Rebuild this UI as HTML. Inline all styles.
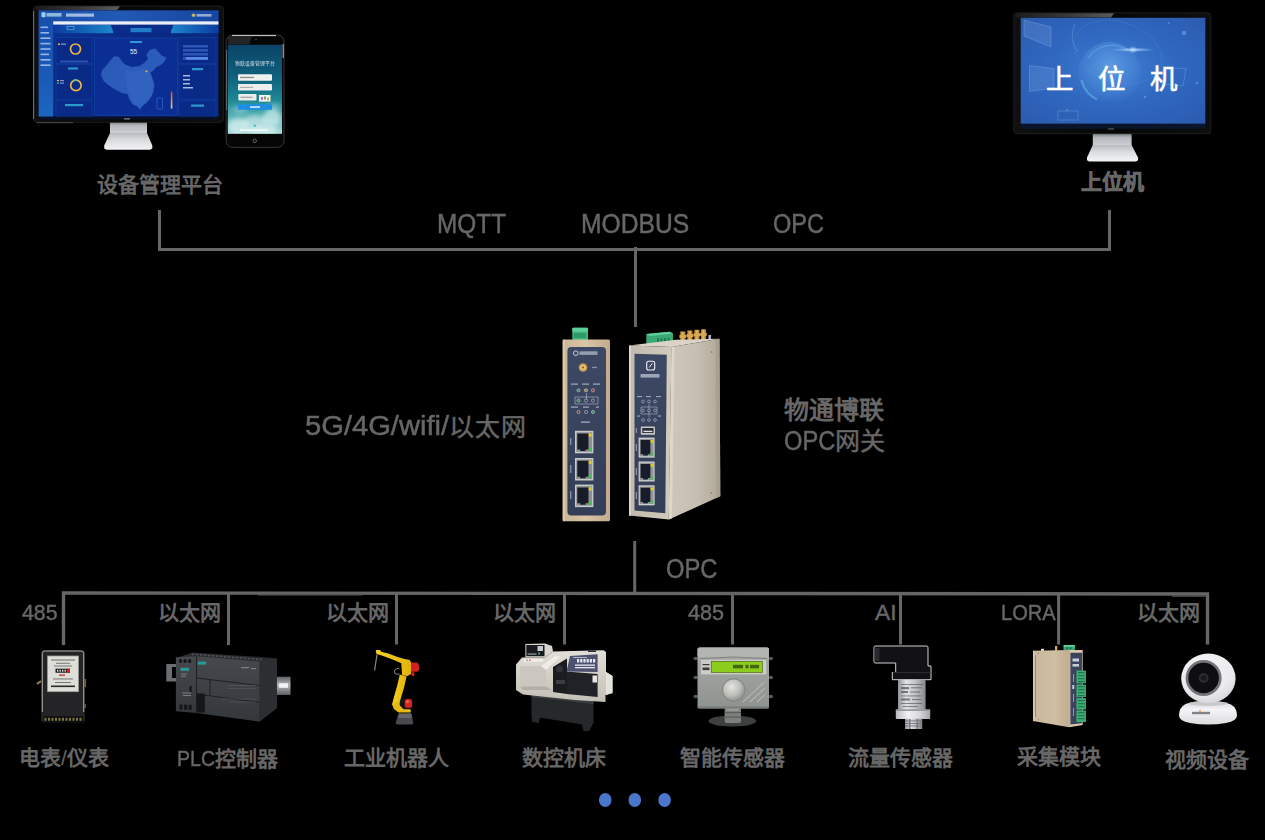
<!DOCTYPE html>
<html lang="zh-CN">
<head>
<meta charset="utf-8">
<title>OPC网关</title>
<style>
html,body{margin:0;padding:0;background:#000;}
body{width:1265px;height:840px;position:relative;overflow:hidden;font-family:"Liberation Sans",sans-serif;color:#666;}
#lines{position:absolute;left:0;top:0;}
.t{position:absolute;white-space:nowrap;line-height:1;color:#676767;}
.b{font-weight:bold;}
.m{-webkit-text-stroke:.45px #676767;}
.k{-webkit-text-stroke:.6px #676767;}
.l{display:inline-block;transform-origin:0 100%;font-size:1.085em;font-weight:normal;-webkit-text-stroke:.45px #676767;}
.c{transform:translateX(-50%);}
.r{transform:translateX(-100%);}
#art{position:absolute;left:0;top:0;}
</style>
</head>
<body>
<svg id="lines" width="1265" height="840" viewBox="0 0 1265 840">
<g fill="none" stroke="#666" stroke-width="3" stroke-linejoin="miter">
<path d="M159.500 210V249.500H1109.500V210"/>
<path d="M635.500 247V327"/>
<path d="M634.700 541V594"/>
<path d="M63.500 645V592.900L1207.500 594V644.500" stroke-width="3.400"/>
<path d="M228.500 593V645M396.500 593V644.500M564.500 593V644.500M732.500 593V644.500M900.500 593V644.500M1058.600 593V644.500"/>
<path d="M258 594.800H362" stroke-width="1.600" stroke="#555"/>
<path d="M1172 596.300H1207" stroke-width="1" stroke="#555"/>
</g>
</svg>
<svg id="art" width="1265" height="840" viewBox="0 0 1265 840">
<defs>
<linearGradient id="gNeck" x1="0" y1="0" x2="0" y2="1"><stop offset="0" stop-color="#6e7278"/><stop offset=".35" stop-color="#b4b7bc"/><stop offset="1" stop-color="#cfd1d5"/></linearGradient>
<linearGradient id="gBase" x1="0" y1="0" x2="0" y2="1"><stop offset="0" stop-color="#b9bbc0"/><stop offset=".45" stop-color="#dcdde0"/><stop offset="1" stop-color="#f4f4f6"/></linearGradient>
<linearGradient id="gBez" x1="0" y1="0" x2="1" y2="0"><stop offset="0" stop-color="#101011"/><stop offset=".5" stop-color="#070708"/><stop offset="1" stop-color="#0e0e0f"/></linearGradient>
<linearGradient id="gS1" x1="0" y1="0" x2="1" y2="1"><stop offset="0" stop-color="#0b3496"/><stop offset=".5" stop-color="#09287f"/><stop offset="1" stop-color="#0a2b8a"/></linearGradient>
<linearGradient id="gS1h" x1="0" y1="0" x2="1" y2="0"><stop offset="0" stop-color="#1a4ea8"/><stop offset=".45" stop-color="#2159b4"/><stop offset="1" stop-color="#1746a0"/></linearGradient>
<linearGradient id="gS1side" x1="0" y1="0" x2="0" y2="1"><stop offset="0" stop-color="#1850ae"/><stop offset=".6" stop-color="#1a5ab8"/><stop offset="1" stop-color="#1c66c0"/></linearGradient>
<linearGradient id="gS1sub" x1="0" y1="0" x2="1" y2="0"><stop offset="0" stop-color="#0b3aa0"/><stop offset="1" stop-color="#1c86cc"/></linearGradient>
<linearGradient id="gS1subR" x1="1" y1="0" x2="0" y2="0"><stop offset="0" stop-color="#0b3aa0"/><stop offset="1" stop-color="#1c86cc"/></linearGradient>
<linearGradient id="gBar" x1="0" y1="0" x2="0" y2="1"><stop offset="0" stop-color="#e04030"/><stop offset="1" stop-color="#f0d060"/></linearGradient>
<linearGradient id="gPh" x1="0" y1="0" x2="0" y2="1"><stop offset="0" stop-color="#0b4468"/><stop offset=".35" stop-color="#0f5f7c"/><stop offset=".62" stop-color="#1c8894"/><stop offset=".8" stop-color="#55b0b4"/><stop offset="1" stop-color="#a8dcdc"/></linearGradient>
<radialGradient id="gS2" cx=".5" cy=".48" r=".75"><stop offset="0" stop-color="#3f7ed0"/><stop offset=".45" stop-color="#3068c0"/><stop offset="1" stop-color="#2a59ae"/></radialGradient>
<radialGradient id="gGlobe" cx=".5" cy=".4" r=".6"><stop offset="0" stop-color="#6aa6e8" stop-opacity=".75"/><stop offset=".7" stop-color="#4a8ad8" stop-opacity=".45"/><stop offset="1" stop-color="#4a8ad8" stop-opacity="0"/></radialGradient>
<radialGradient id="gFlare" cx=".5" cy=".5" r=".5"><stop offset="0" stop-color="#cfe4ff" stop-opacity=".9"/><stop offset="1" stop-color="#8fc0ff" stop-opacity="0"/></radialGradient>
<linearGradient id="gHi" x1="0" y1="0" x2="1" y2="0"><stop offset="0" stop-color="#1c1c1e"/><stop offset=".55" stop-color="#3a3a3d"/><stop offset="1" stop-color="#5c5c60"/></linearGradient>
<filter id="blur1" x="-20%" y="-20%" width="140%" height="140%"><feGaussianBlur stdDeviation="1"/></filter>
<filter id="blur2" x="-20%" y="-20%" width="140%" height="140%"><feGaussianBlur stdDeviation="2"/></filter>
<filter id="blur05" x="-10%" y="-10%" width="120%" height="120%"><feGaussianBlur stdDeviation=".5"/></filter>
</defs>

<!-- ===== Monitor 1 ===== -->
<g id="mon1">
<polygon points="110,121 147,121 147,134 110,134" fill="url(#gNeck)"/>
<polygon points="110,133 147,133 152.300,145.500 152.300,148.500 150,149.800 106.500,149.800 104.200,148.500 104.200,145.500" fill="url(#gBase)"/>
<rect x="33.600" y="6" width="189.800" height="116.300" rx="3" fill="url(#gBez)" stroke="#242427" stroke-width=".8"/>
<polygon points="36,6.300 120,6.300 117,10.200 36,10.200" fill="url(#gHi)"/>
<rect x="38.700" y="10.500" width="179.800" height="106.200" fill="url(#gS1)"/>
<rect x="38.700" y="10.500" width="179.800" height="10.700" fill="url(#gS1h)"/>
<rect x="38.700" y="21" width="14.500" height="95.700" fill="url(#gS1side)"/>
<rect x="53.200" y="21.300" width="165.300" height="3.300" fill="#e9eef8"/>
<rect x="53.200" y="25" width="60" height="8.200" fill="url(#gS1sub)"/>
<rect x="171" y="25" width="47.500" height="8.200" fill="url(#gS1subR)"/>
<polygon points="110.500,25 173.500,25 170,33.200 114,33.200" fill="#0a2b8c"/>
<rect x="130.500" y="28" width="21" height="4.200" fill="#2a9ad8" opacity=".75"/>
<rect x="67" y="26.500" width="7" height="3.200" fill="none" stroke="#7fd0f0" stroke-width=".5"/>
<!-- header logos -->
<rect x="41.500" y="12.300" width="4" height="5" rx=".8" fill="#9ad0f0"/>
<rect x="46.500" y="13" width="15" height="3.600" fill="#b8d8f4" opacity=".75"/>
<rect x="66" y="13.500" width="28" height="3.200" fill="#d8e8fa" opacity=".7"/>
<circle cx="193.500" cy="15.300" r="1.700" fill="#c8b860"/>
<rect x="196.500" y="14" width="15" height="2.600" fill="#c4d4ec" opacity=".7"/>
<!-- sidebar items -->
<g fill="#cfe0f8" opacity=".7"><rect x="40.500" y="26.500" width="7.500" height="1.600"/><rect x="40.500" y="32" width="8.500" height="1.600"/><rect x="40.500" y="37.400" width="10" height="1.600"/><rect x="40.500" y="42.800" width="10" height="1.600"/><rect x="40.500" y="48.200" width="10" height="1.600"/><rect x="40.500" y="53.600" width="8.500" height="1.600"/><rect x="40.500" y="59" width="10" height="1.600"/><rect x="40.500" y="64.400" width="10" height="1.600"/></g>
<!-- panels -->
<g fill="#0a2a88" stroke="#164ab0" stroke-width=".45">
<rect x="56" y="37.700" width="36" height="26"/><rect x="56" y="64.800" width="36" height="34.700"/><rect x="56" y="101" width="36" height="15.200"/>
<rect x="179" y="37.700" width="37" height="26"/><rect x="179" y="64.800" width="37" height="34.700"/><rect x="179" y="101" width="37" height="15.200"/>
</g>
<rect x="94.500" y="38" width="83" height="77.300" fill="#0a2e94"/>
<rect x="94.500" y="38" width="83" height="77.300" fill="none" stroke="#174cb8" stroke-width=".5"/>
<!-- map -->
<polygon points="101.2,74.7 102.9,69.4 107.2,65.1 110.4,60.8 114.2,56.6 118.9,57.2 122.1,61.9 125.3,65.1 131.7,67.2 139.2,66.6 144.5,63.0 148.4,58.7 146.7,54.4 149.9,50.2 155.2,48.7 158.4,52.3 161.6,55.9 165.9,57.6 163.7,61.9 160.5,65.1 156.3,66.6 153.1,70.4 149.9,72.6 152.0,77.9 154.1,84.3 153.1,91.8 150.9,97.1 146.7,102.5 142.4,105.7 139.8,109.3 137.7,106.3 132.8,104.2 129.6,99.3 127.9,93.9 122.1,92.8 115.7,89.6 109.3,85.4 104.0,81.1" fill="#2c5cba" stroke="#4472cc" stroke-width=".35"/>
<polygon points="125.3,70.4 136.0,71.5 144.5,68.3 150.9,73.6 153.1,84.3 152.0,93.9 146.7,102.0 140.3,106.7 133.9,103.5 130.0,96.1 127.0,85.4" fill="#3868c6" opacity=".55" filter="url(#blur05)"/>
<circle cx="146.500" cy="71.300" r=".9" fill="#f0d040"/>
<text x="133.600" y="53.500" font-size="6.500" fill="#e8f0ff" text-anchor="middle" font-family="Liberation Sans, sans-serif">55</text>
<rect x="130" y="41" width="12" height="2" fill="#40b0e8" opacity=".8"/>
<rect x="170.800" y="91.500" width="1.600" height="17" fill="url(#gBar)"/>
<rect x="157" y="98" width="5.500" height="11" rx=".8" fill="none" stroke="#4a7ce0" stroke-width=".5"/>
<!-- donuts -->
<circle cx="75.500" cy="49" r="5" fill="none" stroke="#f0b444" stroke-width="1.700"/>
<circle cx="75.900" cy="85.400" r="5.200" fill="none" stroke="#f0b444" stroke-width="1.700"/>
<path d="M73.500 80.600A5.200 5.200 0 0 1 77 80.300" fill="none" stroke="#30d0b0" stroke-width="1.700"/>
<rect x="58" y="43.500" width="2" height="1.500" fill="#f0b444"/><rect x="61" y="43.500" width="5" height="1.300" fill="#a8c4f0" opacity=".7"/>
<rect x="57" y="80" width="2" height="1.200" fill="#f0b444"/><rect x="57" y="82.500" width="2" height="1.200" fill="#30d0b0"/><rect x="60" y="80" width="4" height="1.200" fill="#a8c4f0" opacity=".7"/><rect x="60" y="82.500" width="4" height="1.200" fill="#a8c4f0" opacity=".7"/>
<rect x="60" y="60.500" width="28" height="2" fill="#2a50b0"/>
<rect x="68" y="67.500" width="10" height="2" fill="#30b0d8" opacity=".85"/>
<rect x="65" y="104" width="18" height="2.200" fill="#30b0d8" opacity=".85"/>
<!-- right panel bars -->
<g fill="#2c55b4"><rect x="183" y="45" width="25" height="2.600"/><rect x="183" y="49" width="25" height="2.600"/><rect x="183" y="53" width="25" height="2.600"/></g>
<rect x="183" y="57" width="3" height="2.800" fill="#2c55b4"/><rect x="186" y="57" width="22" height="2.800" fill="#5a88e8"/>
<rect x="192" y="68" width="11" height="2.200" fill="#30b0d8" opacity=".85"/>
<g fill="#d0dcf4" opacity=".8"><rect x="183" y="75" width="7" height="1.500"/><rect x="183" y="79" width="7" height="1.500"/><rect x="183" y="83" width="7" height="1.500"/><rect x="183" y="87" width="10" height="1.500"/></g>
<rect x="191" y="104.500" width="13" height="2.200" fill="#30b0d8" opacity=".85"/>
<rect x="38.700" y="116.700" width="179.800" height="3" fill="#08122a" opacity=".85"/>
<rect x="124" y="118" width="6" height="1.600" fill="#6a6a70"/>
<rect x="37" y="122.300" width="36" height=".9" fill="#6a6a6e" opacity=".7"/>
<rect x="33.300" y="11" width=".8" height="108" fill="#b8b8bc" opacity=".75"/>
</g>

<!-- ===== Phone ===== -->
<g id="phone">
<rect x="226.100" y="35" width="57.900" height="112.400" rx="6.500" fill="#060607" stroke="#3c3c40" stroke-width=".9"/>
<rect x="232" y="35.100" width="44" height="1" fill="#d8d8da"/>
<path d="M228 36.500H252L249 44.500H228Z" fill="#2c2c2e" opacity=".8"/>
<rect x="282.600" y="44" width="1.300" height="14" fill="#9a9a9e"/>
<rect x="226.200" y="50" width=".9" height="60" fill="#77777a"/>
<rect x="227.800" y="44.800" width="54.200" height="89" fill="url(#gPh)"/>
<clipPath id="cpPh"><rect x="227.800" y="44.800" width="54.200" height="89"/></clipPath>
<g clip-path="url(#cpPh)"><g filter="url(#blur2)" fill="#dff2f2"><ellipse cx="238" cy="126" rx="10" ry="8" opacity=".7"/><ellipse cx="255" cy="122" rx="12" ry="7" opacity=".55"/><ellipse cx="272" cy="118" rx="9" ry="9" opacity=".65"/><ellipse cx="262" cy="131" rx="16" ry="5" opacity=".7"/><ellipse cx="240" cy="110" rx="8" ry="4" opacity=".3"/><ellipse cx="274" cy="107" rx="6" ry="4" opacity=".3"/></g></g>
<text x="254.800" y="65" font-size="4.900" fill="#e4eef2" text-anchor="middle" opacity=".9" font-family="Liberation Sans, sans-serif">物联设备管理平台</text>
<rect x="238" y="74.200" width="34" height="6.600" rx="1" fill="#f0f0f0"/>
<rect x="238" y="84" width="34" height="6.600" rx="1" fill="#eeeeee"/>
<rect x="238.300" y="94" width="18.200" height="6.600" rx="1" fill="#ececec"/>
<rect x="259" y="95" width="11.500" height="6.600" fill="#f4f6f4"/>
<rect x="261" y="97" width="2" height="3" fill="#d060d0"/><rect x="264" y="96.500" width="2" height="3" fill="#60b060"/><rect x="267" y="97.500" width="2" height="3" fill="#d0b040"/>
<rect x="240" y="76.800" width="14" height="1.300" fill="#8a8a8a"/>
<rect x="240" y="86.800" width="13" height="1.200" fill="#b0b0b0"/>
<rect x="240.500" y="96.700" width="12" height="1.200" fill="#a0a0a0"/>
<rect x="238" y="104.200" width="34" height="5.600" rx=".6" fill="#1d8ee4"/>
<rect x="250" y="106.200" width="10" height="1.700" fill="#cfe8fc"/>
<rect x="240" y="129.300" width="28" height="1.600" fill="#f6fcfc" opacity=".9"/>
<circle cx="254.800" cy="125.700" r="1.300" fill="#40c0c0"/>
<circle cx="254.800" cy="140.800" r="1.700" fill="none" stroke="#8c8c90" stroke-width=".7"/>
<circle cx="256" cy="39.400" r=".9" fill="#3a3a3e"/>
</g>

<!-- ===== Monitor 2 ===== -->
<g id="mon2">
<polygon points="1092.800,133 1131.600,133 1131.600,146 1092.800,146" fill="url(#gNeck)"/>
<polygon points="1092.800,145 1131.600,145 1138,157.500 1138,160.300 1136,161.600 1089,161.600 1087,160.300 1087,157.500" fill="url(#gBase)"/>
<rect x="1013.800" y="12.900" width="197" height="120.800" rx="3" fill="url(#gBez)" stroke="#242427" stroke-width=".8"/>
<polygon points="1016,13.200 1114,13.200 1111,17.400 1016,17.400" fill="url(#gHi)"/>
<rect x="1020.700" y="17.800" width="184.600" height="106" fill="url(#gS2)"/>
<circle cx="1109.700" cy="72.800" r="31" fill="url(#gGlobe)"/>
<path d="M1081.500 80A29.500 29.500 0 0 0 1097 99.500" fill="none" stroke="#78c4ee" stroke-width="2.200" opacity=".45" filter="url(#blur05)"/>
<path d="M1088 58A29 29 0 0 1 1128 50" fill="none" stroke="#78c4ee" stroke-width="1.500" opacity=".35" filter="url(#blur05)"/>
<ellipse cx="1118" cy="52" rx="45" ry="30" fill="none" stroke="#9ccaf6" stroke-width=".7" stroke-dasharray=".8 1.600" opacity=".4" transform="rotate(18 1118 52)"/>
<g fill="#a8d0fa" opacity=".35"><circle cx="1184" cy="33" r="2.300"/><circle cx="1067" cy="110" r="1"/><circle cx="1145" cy="97" r="1.200"/><circle cx="1197" cy="83" r="1.300"/><circle cx="1169" cy="23" r=".9"/></g>
<rect x="1020.700" y="123.800" width="184.600" height="5" fill="#0a1630" opacity=".9"/>
<ellipse cx="1133" cy="49.800" rx="22" ry="2.200" fill="url(#gFlare)"/>
<ellipse cx="1133" cy="49.800" rx="5" ry="4" fill="url(#gFlare)"/>
<g fill="none" stroke="#9cc4f4" stroke-width=".6" opacity=".45">
<polygon points="1029.500,65.500 1054,68.500 1054,88 1029.500,91.500"/>
<polygon points="1024,20 1051,27 1051,47 1024,36"/>
<path d="M1075 24Q1068 40 1078 52"/>
<polygon points="1163,68 1186,68.500 1183,86 1163,84"/>
<rect x="1058" y="111" width="20" height="9"/>
</g>
<g fill="#a8ccf8" opacity=".16"><polygon points="1024,20 1051,27 1051,47 1024,36"/><polygon points="1029.500,65.500 1054,68.500 1054,88 1029.500,91.500"/></g>
<text x="1045.500" y="88.600" font-size="27.500" fill="#ffffff" stroke="#ffffff" stroke-width=".6" letter-spacing="25" font-family="Liberation Sans, sans-serif">上位机</text>
<rect x="1108" y="128.300" width="6" height="1.300" fill="#55555a"/>
</g>

<!-- ===== dots ===== -->
<g fill="#4a76cc"><ellipse cx="605.200" cy="800" rx="6.300" ry="6.900"/><ellipse cx="634.800" cy="800" rx="6.300" ry="6.900"/><ellipse cx="664.600" cy="800" rx="6.300" ry="6.900"/></g>
<defs>
<linearGradient id="gBeige" x1="0" y1="0" x2="1" y2="0"><stop offset="0" stop-color="#cbb596"/><stop offset=".5" stop-color="#d8c4a6"/><stop offset="1" stop-color="#c2ab8c"/></linearGradient>
<linearGradient id="gNavy" x1="0" y1="0" x2="0" y2="1"><stop offset="0" stop-color="#3d4864"/><stop offset="1" stop-color="#343e58"/></linearGradient>
<linearGradient id="gSide" x1="0" y1="0" x2="1" y2="0"><stop offset="0" stop-color="#cfc8ba"/><stop offset=".55" stop-color="#c6beb0"/><stop offset="1" stop-color="#b0a898"/></linearGradient>
<linearGradient id="gFrontR" x1="0" y1="0" x2="1" y2="0"><stop offset="0" stop-color="#c2baac"/><stop offset="1" stop-color="#d2cbbd"/></linearGradient>
<linearGradient id="gGold" x1="0" y1="0" x2="1" y2="0"><stop offset="0" stop-color="#b07828"/><stop offset=".5" stop-color="#e8b860"/><stop offset="1" stop-color="#a87020"/></linearGradient>
</defs>

<!-- ===== Gateway left ===== -->
<g id="gw1">
<rect x="572.300" y="327.800" width="15.700" height="12.500" rx="1" fill="#3fb67e"/>
<rect x="572.300" y="327.800" width="15.700" height="4" rx="1" fill="#5ccf98"/>
<rect x="574" y="333" width="12" height="5" fill="#2f9a68"/>
<rect x="562.700" y="339.600" width="47.300" height="181.600" rx="1.500" fill="url(#gBeige)"/>
<rect x="562.700" y="339.600" width="2" height="181.600" fill="#e2d2b8" opacity=".8"/>
<rect x="567.400" y="347" width="38.600" height="168.600" rx="4" fill="url(#gNavy)"/>
<!-- logo -->
<circle cx="575.800" cy="353.200" r="2.300" fill="none" stroke="#e8ecf4" stroke-width=".8"/>
<rect x="579.500" y="351.300" width="18" height="3.600" fill="#dfe4ee" opacity=".55"/>
<!-- antenna -->
<circle cx="583" cy="367.500" r="4.300" fill="#c89a4c"/><circle cx="583" cy="367.500" r="2.800" fill="#e9c27a"/><circle cx="583" cy="367.500" r="1.100" fill="#8a5c1c"/>
<rect x="592" y="366.800" width="5" height="1.300" fill="#aab2c6" opacity=".7"/>
<!-- LEDs -->
<g fill="none" stroke="#c4cadb" stroke-width=".6" opacity=".9">
<path d="M575 397H598M575 404H598M575 397V404M598 397V404M586.500 393V400"/>
</g>
<g stroke="#d4d9e6" stroke-width=".5">
<circle cx="578.500" cy="390.300" r="1.600" fill="#3f8a58"/><circle cx="586" cy="390.300" r="1.600" fill="#9a8a48"/><circle cx="593" cy="390.300" r="1.600" fill="#8e3a3a"/>
<circle cx="578.500" cy="400.500" r="1.600" fill="#3f8a58"/><circle cx="586" cy="400.500" r="1.600" fill="#3a4560"/><circle cx="593" cy="400.500" r="1.600" fill="#3a4560"/>
<circle cx="578.500" cy="412" r="1.600" fill="#8e3a3a"/><circle cx="586" cy="412" r="1.600" fill="#3a4560"/><circle cx="593" cy="412" r="1.600" fill="#3f8a58"/>
</g>
<g fill="#c9cfdf" opacity=".75"><rect x="571" y="383.500" width="7" height="1.200"/><rect x="582" y="383.500" width="7" height="1.200"/><rect x="593" y="383.500" width="7" height="1.200"/><rect x="571" y="406.500" width="7" height="1.200"/><rect x="583" y="406.500" width="6" height="1.200"/><rect x="596" y="406.500" width="3" height="1.200"/><rect x="581" y="421.500" width="9" height="1.300"/></g>
<g transform="translate(575 430.800)"><rect x="0" y="0" width="18.400" height="22.500" fill="#c9c9c6"/><rect x="1.300" y="1.500" width="15.800" height="19.500" fill="#8c8f92"/><path d="M2.300 2.800H13.500V18.700H10.500V20.200H5.300V18.700H2.300Z" fill="#171c28"/><rect x="13.800" y="2.600" width="2.800" height="3.300" fill="#e8c82a"/><rect x="13.800" y="16.800" width="2.800" height="3.300" fill="#3ec24a"/></g>
<g transform="translate(575 458)"><rect x="0" y="0" width="18.400" height="22.500" fill="#c9c9c6"/><rect x="1.300" y="1.500" width="15.800" height="19.500" fill="#8c8f92"/><path d="M2.300 2.800H13.500V18.700H10.500V20.200H5.300V18.700H2.300Z" fill="#171c28"/><rect x="13.800" y="2.600" width="2.800" height="3.300" fill="#e8c82a"/><rect x="13.800" y="16.800" width="2.800" height="3.300" fill="#3ec24a"/></g>
<g transform="translate(575 484.600)"><rect x="0" y="0" width="18.400" height="22.500" fill="#c9c9c6"/><rect x="1.300" y="1.500" width="15.800" height="19.500" fill="#8c8f92"/><path d="M2.300 2.800H13.500V18.700H10.500V20.200H5.300V18.700H2.300Z" fill="#171c28"/><rect x="13.800" y="2.600" width="2.800" height="3.300" fill="#e8c82a"/><rect x="13.800" y="16.800" width="2.800" height="3.300" fill="#3ec24a"/></g>
<g fill="#c9cfdf" opacity=".7"><rect x="570.200" y="438" width="1.100" height="7"/><rect x="570.200" y="465" width="1.100" height="8"/><rect x="570.200" y="491" width="1.100" height="8"/></g>
</g>

<!-- ===== Gateway right ===== -->
<g id="gw2">
<!-- SMA connectors -->
<g>
<rect x="680.200" y="331.500" width="5.200" height="12" fill="url(#gGold)"/><rect x="679.400" y="335" width="6.800" height="3" fill="#d8a850"/>
<rect x="687.300" y="330.500" width="5.200" height="12" fill="url(#gGold)"/><rect x="686.500" y="334" width="6.800" height="3" fill="#d8a850"/>
<rect x="694.300" y="329.800" width="5.200" height="12" fill="url(#gGold)"/><rect x="693.500" y="333.300" width="6.800" height="3" fill="#d8a850"/>
<rect x="701" y="329.300" width="5" height="11.500" fill="url(#gGold)"/><rect x="700.200" y="332.800" width="6.600" height="3" fill="#d8a850"/>
<rect x="708.500" y="335" width="2.500" height="4" fill="#b8b8b8"/>
</g>
<!-- green terminal -->
<polygon points="646.300,334 669.500,331.800 673,333.500 673,344.500 649,346.300 646.300,344.800" fill="#3aa874"/>
<polygon points="646.300,334 669.500,331.800 673,333.500 649.800,336" fill="#62d09c"/>
<g fill="#1f7a50"><rect x="657" y="338.500" width="2" height="4.500"/><rect x="660.500" y="338.300" width="2" height="4.500"/><rect x="664" y="338.100" width="2" height="4.500"/><rect x="667.500" y="337.900" width="2" height="4.500"/></g>
<rect x="669" y="343" width="9" height="3" fill="#20242c"/>
<!-- top face -->
<polygon points="629,345.600 676,339.800 719.500,338.800 671.500,347" fill="#dad3c6"/>
<!-- right side -->
<polygon points="671.500,347 719.500,338.800 720.300,496.300 668.800,519.600" fill="url(#gSide)"/>
<polygon points="715.500,339.500 719.500,338.800 720.300,496.300 716.300,498.100" fill="#a9a091"/>
<polygon points="671.500,347 674.500,346.500 672,518.200 668.800,519.600" fill="#ddd6ca"/>
<circle cx="711.500" cy="352" r="1" fill="#8f8778"/><circle cx="711.500" cy="493" r="1" fill="#8f8778"/>
<!-- front -->
<polygon points="629,345.600 671.500,347 668.800,519.600 629,515.500" fill="url(#gFrontR)"/>
<polygon points="629,345.600 631,345.700 631,515.700 629,515.500" fill="#dcd5c8"/>
<polygon points="634.500,353.800 666.800,354.800 665.300,513.200 634.500,510.500" fill="url(#gNavy)"/>
<!-- logo -->
<rect x="646.700" y="361.200" width="8" height="8.800" rx="2" fill="none" stroke="#f0f2f8" stroke-width="1.100"/>
<path d="M649.200 367.500L652.300 363.300" stroke="#f0f2f8" stroke-width="1" fill="none"/>
<rect x="640.500" y="374" width="19" height="3.600" fill="#dfe4ee" opacity=".6"/>
<!-- LEDs -->
<g fill="none" stroke="#c4cadb" stroke-width=".55" opacity=".9"><path d="M641 407H657M641 414H657M641 407V414M657 407V414M649 404V417"/></g>
<g fill="#39435e" stroke="#d4d9e6" stroke-width=".5"><circle cx="643" cy="401.500" r="1.400"/><circle cx="649" cy="401.500" r="1.400"/><circle cx="655" cy="401.500" r="1.400"/><circle cx="643" cy="410.500" r="1.400"/><circle cx="649" cy="410.500" r="1.400"/><circle cx="655" cy="410.500" r="1.400"/><circle cx="643" cy="420" r="1.400"/><circle cx="649" cy="420" r="1.400"/><circle cx="655" cy="420" r="1.400"/></g>
<g fill="#c9cfdf" opacity=".7"><rect x="637" y="396" width="5" height="1.100"/><rect x="646" y="396" width="5" height="1.100"/><rect x="656" y="396" width="5" height="1.100"/><rect x="637" y="415.500" width="3" height="1.100"/><rect x="658" y="415.500" width="3" height="1.100"/></g>
<!-- usb -->
<rect x="640.800" y="426.400" width="14.200" height="8.300" rx="1" fill="#c8c8c6"/><rect x="642.300" y="428" width="11.200" height="5" fill="#2a2e38"/><rect x="643.500" y="430.700" width="8.800" height="1.400" fill="#e0e0e0"/>
<g transform="translate(638.600 437.600)"><rect x="0" y="0" width="16" height="20" fill="#cfcfcc"/><rect x="1.100" y="1.300" width="13.800" height="17.400" fill="#90959a"/><path d="M2 2.500H11.800V16.600H9.200V17.900H4.600V16.600H2Z" fill="#171c28"/><rect x="12" y="2.200" width="2.500" height="2.800" fill="#e8c82a"/><rect x="12" y="15" width="2.500" height="2.800" fill="#3ec24a"/></g>
<g transform="translate(638.600 461.500)"><rect x="0" y="0" width="16" height="20" fill="#cfcfcc"/><rect x="1.100" y="1.300" width="13.800" height="17.400" fill="#90959a"/><path d="M2 2.500H11.800V16.600H9.200V17.900H4.600V16.600H2Z" fill="#171c28"/><rect x="12" y="2.200" width="2.500" height="2.800" fill="#e8c82a"/><rect x="12" y="15" width="2.500" height="2.800" fill="#3ec24a"/></g>
<g transform="translate(638.600 485.300)"><rect x="0" y="0" width="16" height="20" fill="#cfcfcc"/><rect x="1.100" y="1.300" width="13.800" height="17.400" fill="#90959a"/><path d="M2 2.500H11.800V16.600H9.200V17.900H4.600V16.600H2Z" fill="#171c28"/><rect x="12" y="2.200" width="2.500" height="2.800" fill="#e8c82a"/><rect x="12" y="15" width="2.500" height="2.800" fill="#3ec24a"/></g>
<g fill="#c9cfdf" opacity=".7"><rect x="635.800" y="428" width="1" height="5"/><rect x="635.800" y="444" width="1" height="7"/><rect x="635.800" y="468" width="1" height="7"/><rect x="635.800" y="492" width="1" height="7"/></g>
</g>
<defs>
<linearGradient id="gPlc" x1="0" y1="0" x2="0" y2="1"><stop offset="0" stop-color="#45494d"/><stop offset="1" stop-color="#34383b"/></linearGradient>
<linearGradient id="gRail" x1="0" y1="0" x2="0" y2="1"><stop offset="0" stop-color="#5c6064"/><stop offset=".45" stop-color="#b4b7ba"/><stop offset="1" stop-color="#5a5e62"/></linearGradient>
<linearGradient id="gSteel" x1="0" y1="0" x2="1" y2="0"><stop offset="0" stop-color="#8e9094"/><stop offset=".3" stop-color="#e2e3e6"/><stop offset=".6" stop-color="#c4c5c9"/><stop offset="1" stop-color="#85878b"/></linearGradient>
<linearGradient id="gNut" x1="0" y1="0" x2="1" y2="0"><stop offset="0" stop-color="#b8b9be"/><stop offset=".35" stop-color="#f2f2f5"/><stop offset=".7" stop-color="#d6d6db"/><stop offset="1" stop-color="#a5a6ab"/></linearGradient>
<linearGradient id="gSens" x1="0" y1="0" x2="0" y2="1"><stop offset="0" stop-color="#a9aca8"/><stop offset="1" stop-color="#8f9390"/></linearGradient>
<radialGradient id="gDome" cx=".4" cy=".35" r=".7"><stop offset="0" stop-color="#e4e4e0"/><stop offset=".6" stop-color="#bdbdb8"/><stop offset="1" stop-color="#8e8e8a"/></radialGradient>
<radialGradient id="gCam" cx=".42" cy=".3" r=".8"><stop offset="0" stop-color="#f6f6f8"/><stop offset=".65" stop-color="#eaeaec"/><stop offset="1" stop-color="#cfcfd3"/></radialGradient>
<linearGradient id="gCamB" x1="0" y1="0" x2="0" y2="1"><stop offset="0" stop-color="#d9d9dc"/><stop offset=".35" stop-color="#f4f4f6"/><stop offset="1" stop-color="#dcdcdf"/></linearGradient>
<linearGradient id="gMod" x1="0" y1="0" x2="1" y2="0"><stop offset="0" stop-color="#c9b89c"/><stop offset=".6" stop-color="#cfbea2"/><stop offset="1" stop-color="#c1ad90"/></linearGradient>
<linearGradient id="gCnc" x1="0" y1="0" x2="0" y2="1"><stop offset="0" stop-color="#e2dfd8"/><stop offset="1" stop-color="#c4c0b7"/></linearGradient>
<linearGradient id="gYel" x1="0" y1="0" x2="1" y2="0"><stop offset="0" stop-color="#f6d21e"/><stop offset="1" stop-color="#e2b20e"/></linearGradient>
</defs>

<!-- ===== Meter ===== -->
<g id="meter">
<rect x="41.100" y="650.300" width="43.800" height="72.300" rx="3" fill="#242426"/>
<path d="M42.300 712V653.500Q42.300 651 44.800 651H81.200Q83.700 651 83.700 653.500V712" fill="none" stroke="#bcbcc0" stroke-width=".9"/>
<rect x="47.500" y="656" width="31" height="35.700" fill="#deded9"/>
<rect x="47.500" y="656" width="31" height="35.700" fill="none" stroke="#9a9a98" stroke-width=".8"/>
<g fill="#6a6a68"><rect x="51" y="659.500" width="24" height="1"/><rect x="56" y="662.800" width="14" height=".9"/><rect x="54" y="665.600" width="18" height=".9"/><rect x="53" y="678.500" width="20" height=".9"/><rect x="55" y="682" width="16" height=".9"/></g>
<rect x="51" y="685.500" width="24" height="1.600" fill="#2a2a2a"/>
<rect x="55.500" y="668.700" width="14.500" height="4" fill="#151515"/>
<rect x="66.800" y="668.700" width="3.200" height="4" fill="#d82020"/>
<g fill="#e8e8e8"><rect x="57" y="669.700" width="1.400" height="2"/><rect x="59.500" y="669.700" width="1.400" height="2"/><rect x="62" y="669.700" width="1.400" height="2"/><rect x="64.500" y="669.700" width="1.400" height="2"/></g>
<rect x="59" y="674.500" width="6" height="1.300" fill="#c03030"/>
<rect x="36.500" y="681.500" width="5" height="2" fill="#8a7858" transform="rotate(-35 39 682.500)"/>
<rect x="84.300" y="679" width="1.800" height="8" fill="#6e6438"/>
<rect x="84.500" y="704" width="1.200" height="4" fill="#6e6e40"/>
<rect x="43.500" y="716.300" width="39.500" height="6" fill="#0c0c0c"/>
<g fill="#7e7a3e"><rect x="44.500" y="717.800" width="2" height="3"/><rect x="48" y="717.800" width="2" height="3"/><rect x="51.500" y="717.800" width="2" height="3"/><rect x="55" y="717.800" width="2" height="3"/><rect x="58.500" y="717.800" width="2" height="3"/><rect x="62" y="717.800" width="2" height="3"/><rect x="65.500" y="717.800" width="2" height="3"/><rect x="69" y="717.800" width="2" height="3"/><rect x="72.500" y="717.800" width="2" height="3"/><rect x="76" y="717.800" width="2" height="3"/><rect x="79.500" y="717.800" width="2" height="3"/></g>
</g>

<!-- ===== PLC ===== -->
<g id="plc">
<polygon points="166.300,664 177,664 177,667 172,667 172,678 177,678 177,681.500 166.300,681.500" fill="#6a6e72"/>
<rect x="275" y="676.700" width="15.500" height="18.300" fill="url(#gRail)"/>
<rect x="279" y="683.200" width="9" height="4.600" fill="#f2f2f2"/>
<polygon points="196.500,653.800 259.600,659.500 276.800,658.500 276.800,708 259.600,721.400 196.500,712.200" fill="#2d3033"/>
<polygon points="178,657.500 192,652.600 258,656.800 276.800,658.500 259.600,662 196.500,657.200" fill="#2a2c2f"/>
<polygon points="175.900,657.200 196.500,656.200 196.500,713 175.900,711.200" fill="url(#gPlc)"/>
<polygon points="196.500,656.200 259.600,661.500 259.600,721.400 196.500,713" fill="url(#gPlc)"/>
<polygon points="259.600,661.500 276.800,658.500 276.800,708 259.600,721.400" fill="#2c2f32"/>
<g stroke="#1c1e20" stroke-width=".9" fill="none"><path d="M196.500 678L259.600 685.500M196.500 694L259.600 702.500M196.500 656.200V713M210 679.500V696"/></g>
<g stroke="#606468" stroke-width=".6" fill="none" opacity=".8"><path d="M227 685.500H256M227 688.500H256M222 699H256M230 702H256"/></g>
<g fill="#15171a"><rect x="179" y="659" width="3.200" height="4" rx="1.500"/><rect x="183.500" y="659" width="3.200" height="4" rx="1.500"/><rect x="188" y="659" width="3.200" height="4" rx="1.500"/><rect x="179.500" y="704.500" width="3.200" height="5"/><rect x="184" y="704.700" width="3.200" height="5"/><rect x="188.500" y="704.900" width="3.200" height="5"/><rect x="189.500" y="686" width="2.200" height="6"/></g>
<rect x="197.700" y="661.600" width="8.500" height="3" fill="#2a9a98"/>
<rect x="180.500" y="667.800" width="8.500" height="3" fill="#2a9a98"/>
<g fill="#8a8e92" opacity=".8"><rect x="181" y="673.500" width="6" height="1"/><rect x="181" y="675.800" width="5" height="1"/><rect x="182" y="692.500" width="9" height="1"/><rect x="183" y="695" width="8" height="1"/><rect x="241" y="667" width="8" height="1.200"/><rect x="251" y="668" width="5" height="1.200"/></g>
<g stroke="#55595d" stroke-width="1.600" opacity=".85"><path d="M192 654.200L262 659.600" stroke-dasharray="2.400 1.600"/></g>
<rect x="196.800" y="693.500" width="8" height="19" fill="#141618"/>
</g>

<!-- ===== Robot ===== -->
<g id="robot">
<polygon points="398.5,713.6 411.6,713.6 413.2,723.2 412.3,724.6 396.8,724.6 395.6,723.2" fill="#4a4a4e"/>
<polygon points="399.0,713.6 411.1,713.6 411.8,718.1 398.2,718.1" fill="#66666a"/>
<path d="M377 654.500L374.600 670.500" stroke="#8a8a8e" stroke-width="1.200" fill="none"/>
<path d="M399.500 668Q392.500 669 395 673.500Q397 675 399.500 674" stroke="#a4a4a8" stroke-width=".8" fill="none"/>
<polygon points="399.8,698.8 412.6,698.8 412.6,709.6 399.8,709.6" fill="#15130c"/>
<polygon points="375.8,650.0 380.4,650.0 380.9,651.8 388.3,653.4 396.2,656.5 403.6,658.8 409.8,660.1 411.1,662.6 411.1,673.9 407.5,676.0 402.1,675.3 401.3,663.2 393.9,660.1 386.0,657.0 380.4,654.9 376.4,654.1" fill="url(#gYel)"/>
<polygon points="399.8,674.5 406.6,676.4 404.1,687.5 401.0,697.7 399.8,701.7 399.0,703.4 393.9,707.9 392.1,704.5 393.5,698.8 397.3,685.3" fill="url(#gYel)"/>
<polygon points="392.1,703.4 393.9,709.0 398.5,712.4 410.4,712.6 411.1,710.4 409.8,709.3 403.6,709.3 399.8,705.6 399.6,701.7" fill="#e6ba10"/>
<rect x="404.700" y="699" width="7.300" height="8.800" rx="2.500" fill="#d82424"/><rect x="406" y="700.500" width="3" height="2.500" rx="1" fill="#f0665c"/>
<path d="M411 663.500Q411 662.600 412 662.600H416.500Q419 663.500 419 667V670Q418.500 671.700 416.500 671.700H411Z" fill="#d42020"/>
<rect x="411.500" y="672.300" width="2.800" height="3.700" rx="1" fill="#d42020"/>
</g>

<!-- ===== CNC ===== -->
<g id="cnc">
<polygon points="531.500,693 593.500,700 593.500,723 589,731 583.500,731 582,724.500 540,717.500 538.500,723 532,722 531.500,716" fill="#25292b"/>
<polygon points="531.500,693 593.500,700 593.500,704 531.500,697" fill="#3a3e40"/>
<polygon points="516,664.500 522,657.500 545,657.500 553,651.500 603.500,650.300 606,652 606,672 612.500,676 612.500,693 605.500,695 605.500,702 575,700 523,694.500 516,690" fill="url(#gCnc)"/>
<polygon points="525.400,644.100 545,643.600 552,646 553,651.500 545,657.500 525.400,657.500" fill="#d9d6cf"/>
<rect x="526.300" y="645" width="18.200" height="11.200" fill="#17191c"/>
<rect x="537.500" y="646" width="5.500" height="5" fill="#c8ccd0"/><rect x="527.500" y="653.500" width="9" height="1.200" fill="#9a9ea2"/><rect x="538" y="652.500" width="2" height="2" fill="#40a050"/>
<rect x="524" y="659" width="19" height="2.700" fill="#f0efe9"/><circle cx="530" cy="660.300" r=".8" fill="#d03030"/><circle cx="527" cy="660.300" r=".7" fill="#555"/>
<polygon points="520,666 541,666 546,670 546,686.500 520,686.500" fill="#cbc7be"/>
<polygon points="541,666 556,655.500 560,657 546,670" fill="#eeece6"/>
<polygon points="520,686.500 546,686.500 552,690 523,690" fill="#b3afa6"/>
<polygon points="553,667 567,658.500 567,694 553,692" fill="#1a1c1f"/>
<circle cx="559.500" cy="669" r="3.500" fill="#303438"/><rect x="556" y="680" width="9" height="4" fill="#3a3e42"/>
<polygon points="566.600,671.500 597.600,674 597.600,697 566.600,694" fill="#1f2226"/>
<polygon points="570,656 597.600,654.200 597.600,672 566.600,671.500" fill="#4c5270"/>
<g fill="#e6e8ee"><rect x="577" y="659" width="2.200" height="3.500"/><rect x="580.200" y="659" width="2.200" height="3.500"/><rect x="583.400" y="659" width="2.200" height="3.500"/><rect x="586.600" y="659" width="2.200" height="3.500"/><rect x="589.800" y="659" width="2.200" height="3.500"/><rect x="593" y="659" width="2.200" height="3.500"/><rect x="575" y="664.500" width="20" height="1.300"/><rect x="575" y="667" width="20" height="1.300"/><rect x="573" y="657" width="14" height="1" opacity=".7"/></g>
<rect x="592.500" y="675.500" width="4.500" height="7" fill="#e8e6e0"/>
<polygon points="606,672 612.500,676 612.500,693 606,695" fill="#e6e3dc"/>
<rect x="588" y="650.500" width="8" height="1.500" fill="#2a2c2e"/>
</g>

<!-- ===== Smart sensor ===== -->
<g id="sensor">
<ellipse cx="732.400" cy="721" rx="24" ry="5.500" fill="#3e403e"/>
<rect x="724.600" y="707" width="16.400" height="16" rx="2" fill="#7c807c"/>
<rect x="724.600" y="712" width="16.400" height="1.200" fill="#5a5e5a"/><rect x="724.600" y="716.500" width="16.400" height="1.200" fill="#5a5e5a"/>
<rect x="726.500" y="707" width="12.500" height="4" fill="#959995"/>
<g fill="#55585a"><ellipse cx="695.700" cy="658.500" rx="2.300" ry="1.800"/><ellipse cx="695.700" cy="677.500" rx="2.300" ry="1.800"/><ellipse cx="695.700" cy="696.500" rx="2.300" ry="1.800"/><ellipse cx="770.800" cy="658.500" rx="2.300" ry="1.800"/><ellipse cx="770.800" cy="677.500" rx="2.300" ry="1.800"/><ellipse cx="770.800" cy="696.500" rx="2.300" ry="1.800"/></g>
<rect x="697.500" y="647.600" width="71.500" height="60.800" rx="2" fill="url(#gSens)"/>
<rect x="697.500" y="647.600" width="71.500" height="10" rx="2" fill="#b2b5b1"/>
<path d="M700 658.500Q733 655.500 766.500 658.500" stroke="#7a7e7a" stroke-width=".9" fill="none"/>
<rect x="701" y="659.800" width="65.300" height="14.600" fill="#c9ccc8"/>
<rect x="711.300" y="661.400" width="51" height="11" fill="#8ccc1c"/>
<rect x="711.300" y="661.400" width="51" height="11" fill="none" stroke="#4e6a18" stroke-width=".7"/>
<g fill="#2c4208"><rect x="733" y="664.800" width="10" height="3.500" opacity=".75"/><rect x="745.500" y="664.800" width="3" height="3.500" opacity=".75"/><rect x="750" y="664.800" width="9" height="3.500" opacity=".75"/></g>
<g fill="#3a3c3a"><rect x="702.500" y="664" width="7" height="1.200"/><rect x="702.500" y="667.500" width="7" height="2.600"/></g>
<g stroke="#c6c9c5" stroke-width="1" opacity=".9"><path d="M743 702L764.500 682M750 702L764.500 688.500M757 702L764.500 695"/></g>
<circle cx="733.700" cy="690" r="11.700" fill="#858985"/>
<circle cx="733.700" cy="690" r="10.600" fill="url(#gDome)"/>
<rect x="697.500" y="706.400" width="71.500" height="2" fill="#7a7e7a"/>
</g>

<!-- ===== Pressure sensor ===== -->
<g id="press">
<path d="M875.500 646H926.500Q928 646 928 647.500V666H931V679.700H892.300V672.500H895.700V663H875.500Q874 663 874 661.500V647.500Q874 646 875.500 646Z" fill="#121214" stroke="#e8e8ea" stroke-width=".9"/>
<rect x="874.500" y="648" width="5" height="13" fill="#2a2a2e"/>
<rect x="893" y="672" width="37.500" height="1.200" fill="#2c2c30"/>
<rect x="898" y="679.700" width="27.600" height="30" fill="url(#gSteel)"/>
<g fill="#55575b" opacity=".75"><rect x="901" y="684" width="22" height=".9"/><rect x="901" y="687" width="8" height="2.200"/><rect x="911" y="687.300" width="11" height="1"/><rect x="901" y="691" width="7" height="2"/><rect x="910" y="691.500" width="10" height="1"/><rect x="901" y="695.500" width="20" height=".9"/><rect x="901" y="698.500" width="9" height="2"/><rect x="912" y="699" width="9" height="1"/><rect x="901" y="703" width="21" height=".9"/><rect x="903" y="706" width="15" height=".9"/></g>
<rect x="895.800" y="709.500" width="34.400" height="9.400" rx="1" fill="url(#gNut)"/>
<rect x="895.800" y="709.500" width="34.400" height="1.500" fill="#9a9b9f"/>
<rect x="905" y="718.700" width="17.200" height="10.300" fill="url(#gSteel)"/>
<g fill="#6e7074"><rect x="905" y="720.500" width="17.200" height=".9"/><rect x="905" y="723" width="17.200" height=".9"/><rect x="905" y="725.500" width="17.200" height=".9"/></g>
<g fill="#77797d"><rect x="909" y="719" width="1.500" height="10"/><rect x="916.500" y="719" width="1.500" height="10"/></g>
</g>

<!-- ===== Module ===== -->
<g id="module">
<rect x="1041" y="648.800" width="3" height="2.500" fill="#e0e0e0"/>
<rect x="1055" y="646" width="2.200" height="5" fill="#d8b048"/>
<rect x="1063.500" y="645" width="11.500" height="5.200" rx="1" fill="#3aa874"/><rect x="1063.500" y="645" width="11.500" height="1.800" rx=".8" fill="#62d09c"/><rect x="1066" y="647.300" width="2" height="2" fill="#1f6a48"/><rect x="1069.500" y="647.300" width="2" height="2" fill="#1f6a48"/>
<polygon points="1033.100,650.700 1069.100,650.100 1069.100,727.200 1033.100,720.900" fill="url(#gMod)"/>
<polygon points="1033.100,650.700 1034.600,650.700 1034.600,721.200 1033.100,720.900" fill="#dccdb4"/><rect x="1035" y="655" width="1" height="62" fill="#8f7d62" opacity=".8"/>
<polygon points="1069.100,650.100 1082.700,650.100 1082.700,725 1069.100,727.200" fill="#d8c8ac"/>
<polygon points="1070.400,652.800 1082,652.800 1082,723.300 1070.400,724.600" fill="#3a445e"/>
<g fill="#dfe4ee" opacity=".85"><rect x="1072.500" y="658.500" width="6.500" height="3"/><rect x="1072.500" y="664" width="6.500" height="2.600"/><rect x="1072.300" y="685" width="2" height="4"/></g>
<g fill="#c9cfdf" opacity=".6"><rect x="1073" y="674" width="1" height="8"/><rect x="1073" y="694" width="1" height="8"/><rect x="1073" y="708" width="1" height="8"/></g>
<g>
<rect x="1076.500" y="670.600" width="9.400" height="12.700" fill="#3cae74"/><rect x="1076.500" y="684.600" width="9.400" height="12.400" fill="#3cae74"/><rect x="1076.500" y="698.200" width="9.400" height="11.300" fill="#3cae74"/><rect x="1076.500" y="710.500" width="9.400" height="11.500" fill="#3cae74"/>
<g fill="#1f7a4e"><rect x="1078" y="672" width="6.500" height="1.300"/><rect x="1078" y="675" width="6.500" height="1.300"/><rect x="1078" y="678" width="6.500" height="1.300"/><rect x="1078" y="681" width="6.500" height="1.300"/><rect x="1078" y="686" width="6.500" height="1.300"/><rect x="1078" y="689" width="6.500" height="1.300"/><rect x="1078" y="692" width="6.500" height="1.300"/><rect x="1078" y="695" width="6.500" height="1.300"/><rect x="1078" y="700" width="6.500" height="1.300"/><rect x="1078" y="703" width="6.500" height="1.300"/><rect x="1078" y="706" width="6.500" height="1.300"/><rect x="1078" y="712" width="6.500" height="1.300"/><rect x="1078" y="715" width="6.500" height="1.300"/><rect x="1078" y="718" width="6.500" height="1.300"/></g>
</g>
<circle cx="1038.500" cy="653.500" r=".7" fill="#9a8a70"/><circle cx="1038.500" cy="719" r=".7" fill="#9a8a70"/>
</g>

<!-- ===== Camera ===== -->
<g id="camera">
<path d="M1179 715.500Q1179 707.500 1185.500 704Q1191 701.500 1197 701.500H1219Q1226 702 1231 704.500Q1237 708 1237 715.500Q1237 721 1226 723Q1208 726 1190 723Q1179 721 1179 715.500Z" fill="url(#gCamB)"/>
<ellipse cx="1208" cy="703.500" rx="19" ry="2.600" fill="#c9c9cd"/>
<ellipse cx="1208.400" cy="678.400" rx="27.200" ry="24.800" fill="url(#gCam)"/>
<circle cx="1203.600" cy="678" r="18" fill="#737478"/>
<circle cx="1203.600" cy="678" r="15.300" fill="#0e0e11"/>
<circle cx="1203.600" cy="678" r="5" fill="#2a2b30"/>
<circle cx="1203.600" cy="678" r="2.800" fill="#1a1a1e"/>
<rect x="1192" y="711.800" width="18" height="2.400" fill="#555558" opacity=".7"/>
<circle cx="1200" cy="711" r=".9" fill="#e89030"/>
</g>
</svg>

<div class="t b" id="t1" style="left:97px;top:174px;font-size:21px;">设备管理平台</div>
<div class="t b k" id="t2" style="left:1081px;top:171px;font-size:21px;">上位机</div>
<div class="t" id="t3" style="left:436.800px;top:210px;font-size:25px;"><span class="l" style="transform:scaleX(.899)">MQTT</span></div>
<div class="t" id="t4" style="left:580.800px;top:210px;font-size:25px;"><span class="l" style="transform:scaleX(.909)">MODBUS</span></div>
<div class="t" id="t5" style="left:773.100px;top:210px;font-size:25px;"><span class="l" style="transform:scaleX(.867)">OPC</span></div>
<div class="t m" id="t6" style="left:305px;top:413px;font-size:25px;"><span class="l" style="transform:scaleX(1.075);margin-right:10.100px;position:relative;top:-1px;">5G/4G/wifi/</span><span style="letter-spacing:.8px">以太网</span></div>
<div class="t b" id="t7" style="left:784px;top:398px;font-size:25px;">物通博联</div>
<div class="t m" id="t8" style="left:784px;top:427px;font-size:25px;"><span class="l" style="transform:scaleX(.872);margin-right:-7.500px;">OPC</span>网关</div>
<div class="t" id="t9" style="left:665.900px;top:555px;font-size:25px;"><span class="l" style="transform:scaleX(.877)">OPC</span></div>
<div class="t" id="c1" style="left:22px;top:601px;font-size:21px;"><span class="l k" style="transform:scaleX(.935)">485</span></div>
<div class="t b" id="c2" style="left:157.500px;top:602px;font-size:21px;">以太网</div>
<div class="t b" id="c3" style="left:325.500px;top:602px;font-size:21px;">以太网</div>
<div class="t b" id="c4" style="left:493px;top:602px;font-size:21px;">以太网</div>
<div class="t" id="c5" style="left:688px;top:601px;font-size:21px;"><span class="l k" style="transform:scaleX(.95)">485</span></div>
<div class="t" id="c6" style="left:875px;top:601px;font-size:21px;"><span class="l">AI</span></div>
<div class="t" id="c7" style="left:1000.500px;top:601px;font-size:21px;"><span class="l" style="transform:scaleX(.882)">LORA</span></div>
<div class="t b" id="c8" style="left:1137px;top:602px;font-size:21px;">以太网</div>
<div class="t b" id="d1" style="left:19px;top:747px;font-size:21px;">电表<span style="font-weight:normal">/</span>仪表</div>
<div class="t b" id="d2" style="left:177px;top:747px;font-size:21px;"><span class="l" style="transform:scaleX(.86);margin-right:-6.200px;">PLC</span>控制器</div>
<div class="t b" id="d3" style="left:344px;top:747px;font-size:21px;">工业机器人</div>
<div class="t b" id="d4" style="left:522px;top:747px;font-size:21px;">数控机床</div>
<div class="t b" id="d5" style="left:680px;top:747px;font-size:21px;">智能传感器</div>
<div class="t b" id="d6" style="left:848px;top:747px;font-size:21px;">流量传感器</div>
<div class="t b" id="d7" style="left:1017px;top:746px;font-size:21px;">采集模块</div>
<div class="t b" id="d8" style="left:1165px;top:749px;font-size:21px;">视频设备</div>
</body>
</html>
